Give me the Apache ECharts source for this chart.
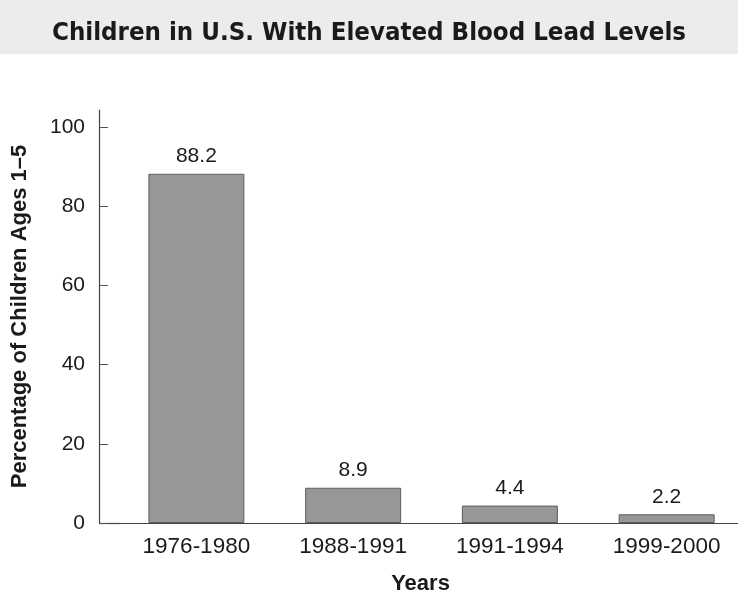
<!DOCTYPE html>
<html>
	<head>
		<meta charset="UTF-8">
		<title>Children in U.S. With Elevated Blood Lead Levels</title>
		<script src="https://cdn.jsdelivr.net/npm/echarts@6/dist/echarts.min.js" type="text/javascript" charset="utf-8"></script>
	</head>
	<body style="margin:0;">
		<div id="main" style="width: 738px;height: 592px;"></div>
	</body>
	<script type="text/javascript">
var periods = ['1976-1980', '1988-1991', '1991-1994', '1999-2000'];
var percents = [88.2, 8.9, 4.4, 2.2];
var yTicks = [0, 20, 40, 60, 80, 100];

var myChart = echarts.init(document.getElementById('main'));

var option = {
    backgroundColor: '#ffffff',
    animation: false,
    title: {
        text: 'Children in U.S. With Elevated Blood Lead Levels',
        left: 'center',
        top: 15,
        textStyle: {
            fontFamily: 'DejaVu Sans Condensed',
            fontWeight: 'bold',
            fontSize: 25.6,
            color: '#1a1a1a'
        }
    },
    graphic: [
        {
            type: 'rect',
            left: 0, top: 0,
            shape: { width: 738, height: 54 },
            style: { fill: '#ececec' },
            z: -10
        },
        {
            // x-axis line runs all the way to the y-axis
            type: 'line',
            shape: { x1: 99, y1: 523.5, x2: 120, y2: 523.5 },
            style: { stroke: '#444', lineWidth: 1.2 }
        }
    ],
    grid: {
        left: 118,
        right: -7,
        top: 110,
        bottom: 69,
        outerBoundsMode: 'none'
    },
    xAxis: {
        type: 'category',
        data: periods,
        name: 'Years',
        nameLocation: 'middle',
        nameGap: 50,
        nameTextStyle: {
            fontFamily: 'Liberation Sans',
            fontWeight: 'bold',
            fontSize: 22,
            color: '#1a1a1a',
            padding: [0, 22, 0, 0]
        },
        axisLine: { lineStyle: { color: '#444', width: 1.2 } },
        axisTick: { show: false },
        axisLabel: {
            margin: 12,
            fontFamily: 'Liberation Sans',
            fontSize: 22.5,
            color: '#1a1a1a'
        }
    },
    yAxis: {
        type: 'value',
        min: 0,
        max: 104.3,
        offset: 19,
        name: 'Percentage of Children Ages 1–5',
        nameLocation: 'middle',
        nameGap: 68,
        nameTextStyle: {
            fontFamily: 'Liberation Sans',
            fontWeight: 'bold',
            fontSize: 22,
            color: '#1a1a1a'
        },
        splitLine: { show: false },
        axisLine: { show: true, lineStyle: { color: '#444', width: 1.2 } },
        axisTick: {
            show: true,
            inside: true,
            length: 9,
            customValues: yTicks,
            lineStyle: { color: '#555' }
        },
        axisLabel: {
            customValues: yTicks,
            margin: 14,
            fontFamily: 'Liberation Sans',
            fontSize: 21,
            color: '#1a1a1a'
        }
    },
    series: [
        {
            type: 'bar',
            data: percents,
            barWidth: 96,
            itemStyle: {
                color: '#979797',
                borderColor: '#5e5e5e',
                borderWidth: 1
            },
            label: {
                show: true,
                position: 'top',
                distance: 7,
                fontFamily: 'Liberation Sans',
                fontSize: 21,
                color: '#1a1a1a'
            }
        }
    ]
};
myChart.setOption(option);
	</script>
</html>
